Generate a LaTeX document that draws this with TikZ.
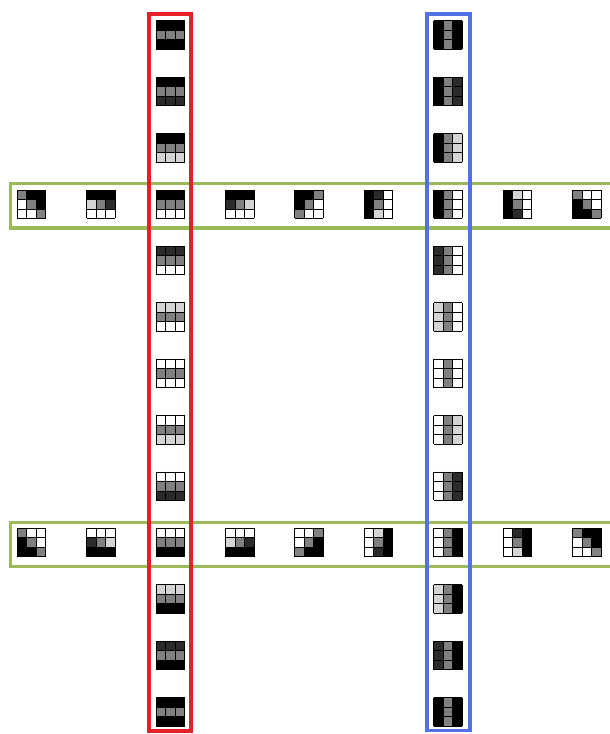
\documentclass[tikz,border=0pt]{standalone}
\usepackage{tikz}
\definecolor{gK}{gray}{0}
\definecolor{gD}{gray}{0.17}
\definecolor{gM}{gray}{0.5}
\definecolor{gL}{gray}{0.83}
\definecolor{gW}{gray}{1}
\definecolor{boxred}{RGB}{230,32,40}
\definecolor{boxblue}{RGB}{82,112,232}
\definecolor{boxgreen}{RGB}{155,187,89}
\tikzset{
  framebox/.style={line width=3.6pt},
  cellline/.style={line width=0.9pt, draw=black},
}
\newcommand{\tgrid}[3]{%
  \begin{scope}[shift={(#1,#2)}]
    \foreach \cc [count=\i from 0] in {#3} {
      \pgfmathtruncatemacro{\rr}{div(\i,3)}
      \pgfmathtruncatemacro{\kk}{mod(\i,3)}
      \fill[g\cc] ({-14.25+9.5*\kk},{-14.25+9.5*\rr}) rectangle ++(9.5,9.5);
    }
    \foreach \k in {0,1,2,3} {
      \draw[cellline] ({-14.25+9.5*\k},-14.25) -- ({-14.25+9.5*\k},14.25);
      \draw[cellline] (-14.25,{-14.25+9.5*\k}) -- (14.25,{-14.25+9.5*\k});
    }
  \end{scope}}
\begin{document}
\begin{tikzpicture}[x=1pt,y=-1pt]
\useasboundingbox (0,0) rectangle (610,734);
\clip (0,0) rectangle (610,734);
\fill[white] (0,0) rectangle (610,734);
% green rows
\draw[framebox, boxgreen] (10.5,183.5) rectangle (616,228);
\draw[framebox, boxgreen] (10.5,522.5) rectangle (616,566.5);
% red and blue columns
\draw[framebox, boxred] (149,14) rectangle (190.8,731);
\draw[framebox, boxblue] (427,14) rectangle (470,730.5);
% red column
\tgrid{170.3}{35}{K,K,K,M,M,M,K,K,K}
\tgrid{170.3}{91.4}{K,K,K,M,M,M,D,D,D}
\tgrid{170.3}{147.8}{K,K,K,M,M,M,L,L,L}
\tgrid{170.3}{204.2}{K,K,K,M,M,M,W,W,W}
\tgrid{170.3}{260.6}{D,D,D,M,M,M,W,W,W}
\tgrid{170.3}{317}{L,L,L,M,M,M,W,W,W}
\tgrid{170.3}{373.4}{W,W,W,M,M,M,W,W,W}
\tgrid{170.3}{429.8}{W,W,W,M,M,M,L,L,L}
\tgrid{170.3}{486.2}{W,W,W,M,M,M,D,D,D}
\tgrid{170.3}{542.6}{W,W,W,M,M,M,K,K,K}
\tgrid{170.3}{599}{L,L,L,M,M,M,K,K,K}
\tgrid{170.3}{655.4}{D,D,D,M,M,M,K,K,K}
\tgrid{170.3}{711.8}{K,K,K,M,M,M,K,K,K}
% blue column
\tgrid{447.9}{35}{K,M,K,K,M,K,K,M,K}
\tgrid{447.9}{91.4}{K,M,D,K,M,D,K,M,D}
\tgrid{447.9}{147.8}{K,M,L,K,M,L,K,M,L}
\tgrid{447.9}{204.2}{K,M,W,K,M,W,K,M,W}
\tgrid{447.9}{260.6}{D,M,W,D,M,W,D,M,W}
\tgrid{447.9}{317}{L,M,W,L,M,W,L,M,W}
\tgrid{447.9}{373.4}{W,M,W,W,M,W,W,M,W}
\tgrid{447.9}{429.8}{W,M,L,W,M,L,W,M,L}
\tgrid{447.9}{486.2}{W,M,D,W,M,D,W,M,D}
\tgrid{447.9}{542.6}{W,M,K,W,M,K,W,M,K}
\tgrid{447.9}{599}{L,M,K,L,M,K,L,M,K}
\tgrid{447.9}{655.4}{D,M,K,D,M,K,D,M,K}
\tgrid{447.9}{711.8}{K,M,K,K,M,K,K,M,K}
% green row 1
\tgrid{31.5}{204.2}{M,K,K,W,M,K,W,W,M}
\tgrid{100.9}{204.2}{K,K,K,L,M,D,W,W,W}
\tgrid{239.7}{204.2}{K,K,K,D,M,L,W,W,W}
\tgrid{309.1}{204.2}{K,K,M,K,M,W,M,W,W}
\tgrid{378.5}{204.2}{K,D,W,K,M,W,K,L,W}
\tgrid{517.3}{204.2}{K,L,W,K,M,W,K,D,W}
\tgrid{586.7}{204.2}{M,W,W,K,M,W,K,K,M}
% green row 2
\tgrid{31.5}{542.6}{M,W,W,K,M,W,K,K,M}
\tgrid{100.9}{542.6}{W,W,W,D,M,L,K,K,K}
\tgrid{239.7}{542.6}{W,W,W,L,M,D,K,K,K}
\tgrid{309.1}{542.6}{W,W,M,W,M,K,M,K,K}
\tgrid{378.5}{542.6}{W,L,K,W,M,K,W,D,K}
\tgrid{517.3}{542.6}{W,D,K,W,M,K,W,L,K}
\tgrid{586.7}{542.6}{M,K,K,W,M,K,W,W,M}
\end{tikzpicture}
\end{document}
